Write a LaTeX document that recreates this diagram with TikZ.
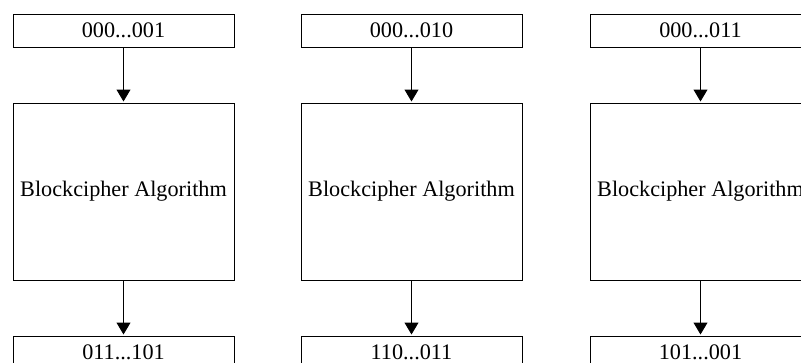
\documentclass[tikz,border=0pt]{standalone}
\usepackage{fontspec}
\setmainfont{Liberation Serif}
\usetikzlibrary{arrows.meta}
\begin{document}
\begin{tikzpicture}[x=1pt,y=-1pt,
  every node/.style={font=\fontsize{22.2}{25}\selectfont},
  inbox/.style={draw,line width=1pt,minimum width=221pt,minimum height=33pt,inner sep=0pt},
  algbox/.style={draw,line width=1pt,minimum width=221pt,minimum height=177pt,inner sep=0pt},
  flow/.style={-{Triangle[length=12pt,width=14pt]},line width=1pt,shorten >=1pt}]
\useasboundingbox (0,0) rectangle (801,362);
\clip (0,0) rectangle (801,362);
\node[inbox] (in1) at (123.5,30.5) {000...001};
\node[algbox] (alg1) at (123.5,191.5) {Blockcipher Algorithm};
\node[inbox] (out1) at (123.5,352.5) {011...101};
\node[inbox] (in2) at (411.5,30.5) {000...010};
\node[algbox] (alg2) at (411.5,191.5) {Blockcipher Algorithm};
\node[inbox] (out2) at (411.5,352.5) {110...011};
\node[inbox] (in3) at (700.5,30.5) {000...011};
\node[algbox] (alg3) at (700.5,191.5) {Blockcipher Algorithm};
\node[inbox] (out3) at (700.5,352.5) {101...001};
\draw[flow] (in1) -- (alg1);
\draw[flow] (alg1) -- (out1);
\draw[flow] (in2) -- (alg2);
\draw[flow] (alg2) -- (out2);
\draw[flow] (in3) -- (alg3);
\draw[flow] (alg3) -- (out3);
\end{tikzpicture}
\end{document}
